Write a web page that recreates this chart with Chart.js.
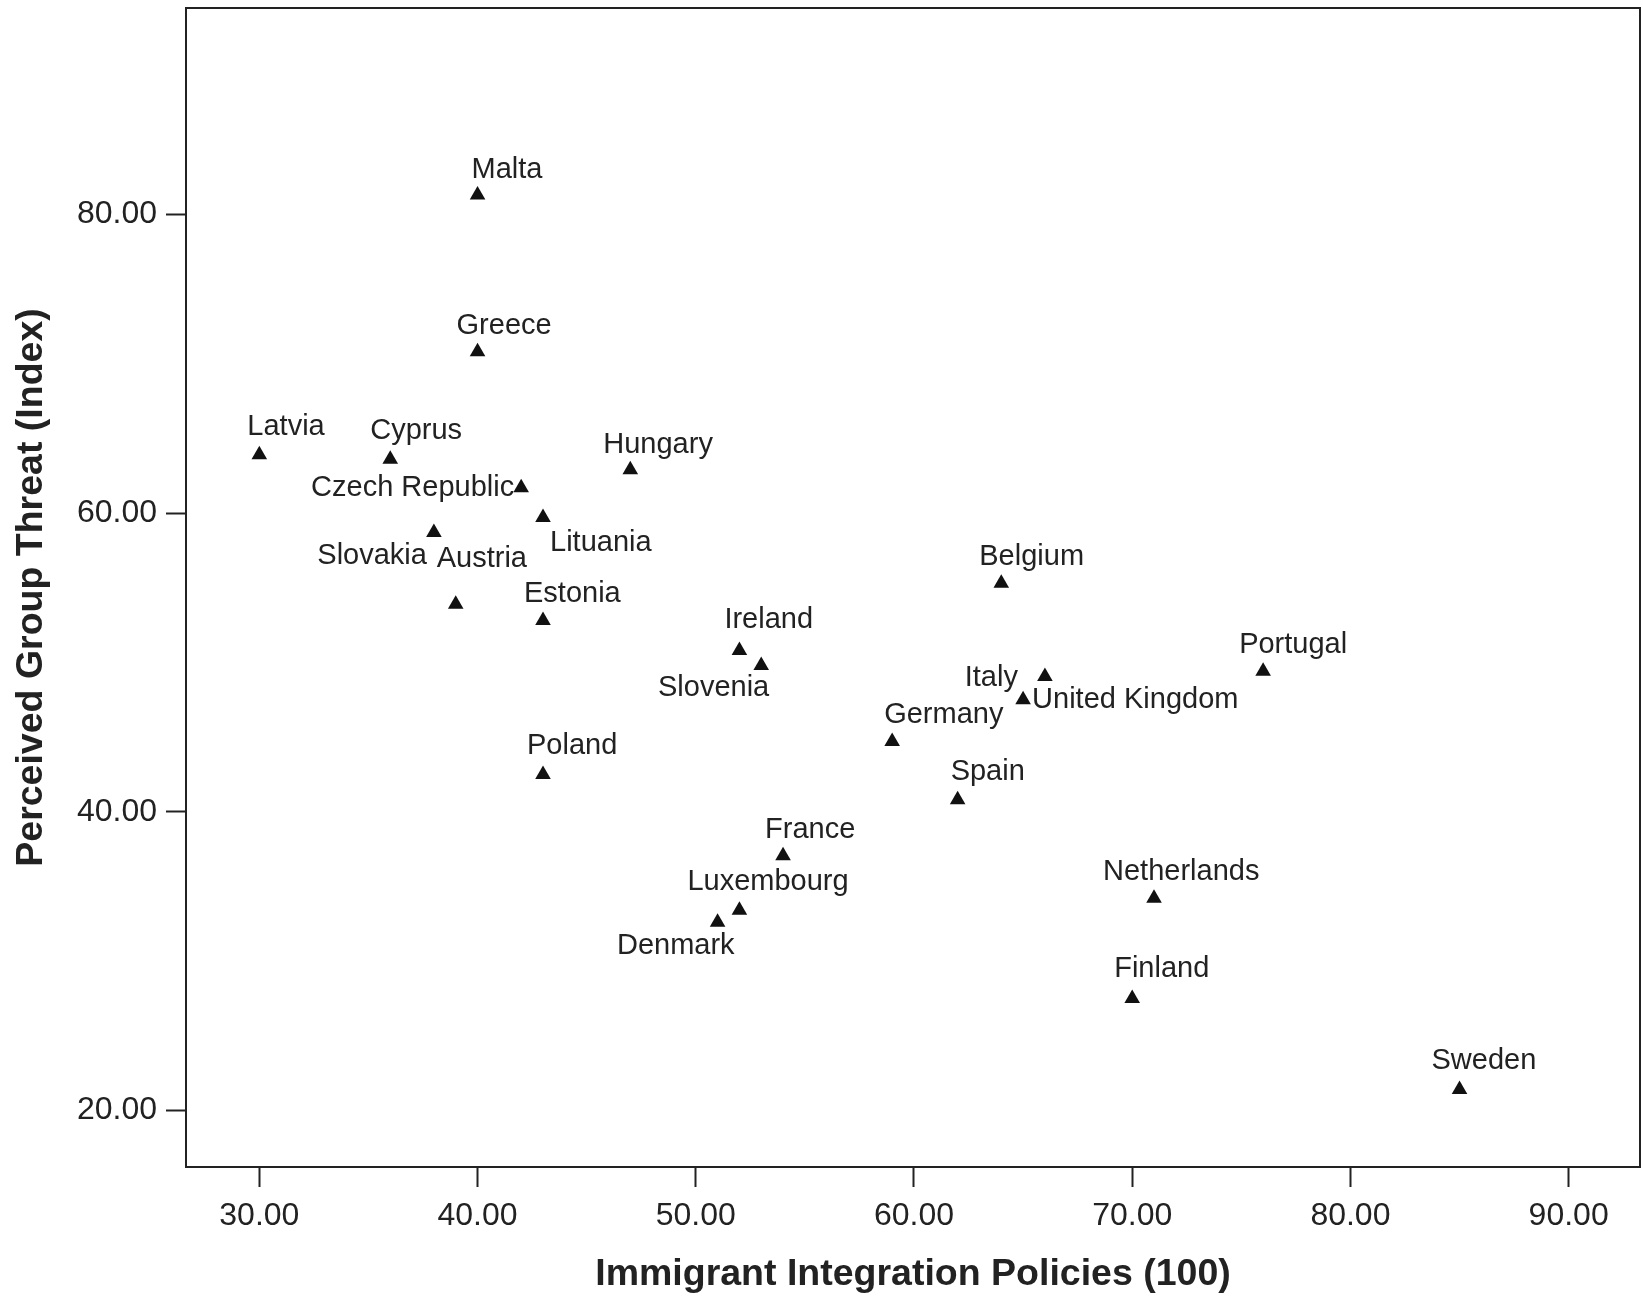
<!DOCTYPE html>
<html>
<head>
<meta charset="utf-8">
<script src="https://cdn.jsdelivr.net/npm/chart.js@4.4.1/dist/chart.umd.min.js"></script>
<style>
  html, body { margin: 0; padding: 0; background: #fff; }
  #wrap { width: 1643px; height: 1311px; }
</style>
</head>
<body>
<div id="wrap"><canvas id="chart" width="1643" height="1311"></canvas></div>
<script>
const countries = [
  `Malta`, `Greece`, `Latvia`, `Cyprus`, `Czech Republic`, `Hungary`, `Lituania`,
  `Slovakia`, `Austria`, `Estonia`, `Ireland`, `Slovenia`, `Belgium`, `Portugal`,
  `Italy`, `United Kingdom`, `Germany`, `Poland`, `Spain`, `France`, `Luxembourg`,
  `Denmark`, `Netherlands`, `Finland`, `Sweden`
];
const integrationPolicies = [
  40, 40, 30, 36, 42, 47, 43,
  38, 39, 43, 52, 53, 64, 76,
  66, 65, 59, 43, 62, 54, 52,
  51, 71, 70, 85
];
const groupThreat = [
  81.3, 70.8, 63.9, 63.6, 61.7, 62.9, 59.7,
  58.7, 53.9, 52.8, 50.8, 49.8, 55.3, 49.4,
  49.05, 47.5, 44.7, 42.5, 40.8, 37.05, 33.4,
  32.6, 34.2, 27.5, 21.4
];
const xTicks = [30, 40, 50, 60, 70, 80, 90];
const yTicks = [20, 40, 60, 80];

// where each name sits next to its marker: [align, dx, dy]
const labelPlacement = {
  "Malta": [`left`, -6, -25],
  "Greece": [`left`, -21, -26],
  "Latvia": [`left`, -12, -28],
  "Cyprus": [`left`, -20, -28],
  "Czech Republic": [`right`, -7, 0],
  "Hungary": [`left`, -27, -25],
  "Lituania": [`left`, 7, 25],
  "Slovakia": [`right`, -7, 24],
  "Austria": [`left`, -19, -45],
  "Estonia": [`left`, -19, -27],
  "Ireland": [`left`, -15, -30],
  "Slovenia": [`right`, 8, 23],
  "Belgium": [`left`, -22, -26],
  "Portugal": [`left`, -24, -26],
  "Italy": [`right`, -27, 1],
  "United Kingdom": [`left`, 9, 0],
  "Germany": [`left`, -8, -27],
  "Poland": [`left`, -16, -28],
  "Spain": [`left`, -7, -28],
  "France": [`left`, -18, -26],
  "Luxembourg": [`left`, -52, -28],
  "Denmark": [`right`, 17, 24],
  "Netherlands": [`left`, -51, -26],
  "Finland": [`left`, -18, -29],
  "Sweden": [`left`, -28, -28]
};

const TEXT_COLOR = `#222`;
const FONT = `"Liberation Sans", Arial, sans-serif`;

const pointLabels = {
  id: `pointLabels`,
  afterDatasetsDraw(chart) {
    const {ctx} = chart;
    const points = chart.getDatasetMeta(0).data;
    ctx.save();
    ctx.font = `29px ${FONT}`;
    ctx.fillStyle = TEXT_COLOR;
    ctx.textBaseline = `middle`;
    points.forEach((pt, i) => {
      const [align, dx, dy] = labelPlacement[countries[i]];
      ctx.textAlign = align;
      ctx.fillText(countries[i], pt.x + dx, pt.y + dy);
    });
    ctx.restore();
  }
};

const frame = {
  id: `frame`,
  afterDraw(chart) {
    const {ctx, chartArea: a} = chart;
    ctx.save();
    ctx.strokeStyle = TEXT_COLOR;
    ctx.lineWidth = 2;
    ctx.beginPath();
    ctx.moveTo(a.left, a.top);
    ctx.lineTo(a.right, a.top);
    ctx.lineTo(a.right, a.bottom);
    ctx.stroke();
    ctx.restore();
  }
};

const points = integrationPolicies.map((x, i) => ({x, y: groupThreat[i]}));

new Chart(document.getElementById(`chart`).getContext(`2d`), {
  type: `scatter`,
  data: {
    datasets: [{
      data: points,
      pointStyle: `triangle`,
      pointRadius: 9,
      pointHoverRadius: 9,
      backgroundColor: `#111`,
      borderColor: `#111`,
      borderWidth: 0
    }]
  },
  options: {
    responsive: false,
    animation: false,
    events: [],
    layout: {autoPadding: false, padding: {top: 8, right: 3, left: 0, bottom: 0}},
    plugins: {legend: {display: false}, tooltip: {enabled: false}},
    scales: {
      x: {
        type: `linear`,
        min: 26.64,
        max: 93.27,
        afterFit: (s) => {
          s.height = 144;
          s.paddingLeft = 0;
          s.paddingRight = 0;
        },
        afterBuildTicks: (s) => { s.ticks = xTicks.map((value) => ({value})); },
        grid: {drawOnChartArea: false, drawTicks: true, tickLength: 20, tickColor: TEXT_COLOR, tickWidth: 2},
        border: {display: true, color: TEXT_COLOR, width: 2},
        ticks: {
          autoSkip: false, maxRotation: 0, padding: 10, color: TEXT_COLOR,
          font: {family: FONT, size: 32},
          callback: (v) => Number(v).toFixed(2)
        },
        title: {
          display: true, text: `Immigrant Integration Policies (100)`, color: TEXT_COLOR,
          font: {family: FONT, size: 37.5, weight: `bold`}, padding: {top: 0, bottom: 14}
        }
      },
      y: {
        type: `linear`,
        min: 16.21,
        max: 93.82,
        afterFit: (s) => {
          s.width = 186;
          s.paddingTop = 0;
          s.paddingBottom = 0;
        },
        afterBuildTicks: (s) => { s.ticks = yTicks.map((value) => ({value})); },
        grid: {drawOnChartArea: false, drawTicks: true, tickLength: 20, tickColor: TEXT_COLOR, tickWidth: 2},
        border: {display: true, color: TEXT_COLOR, width: 2},
        ticks: {
          autoSkip: false, padding: 9, color: TEXT_COLOR,
          font: {family: FONT, size: 32},
          callback: (v) => Number(v).toFixed(2)
        },
        title: {
          display: true, text: `Perceived Group Threat (Index)`, color: TEXT_COLOR,
          font: {family: FONT, size: 37.5, weight: `bold`}, padding: {top: 9, bottom: 0}
        }
      }
    }
  },
  plugins: [pointLabels, frame]
});
</script>
</body>
</html>
